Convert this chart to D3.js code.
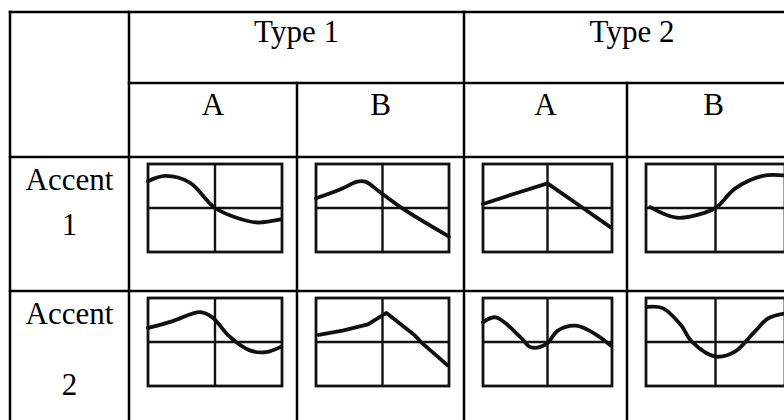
<!DOCTYPE html>
<html>
<head>
<meta charset="utf-8">
<script src="https://cdn.jsdelivr.net/npm/d3@7"></script>
<style>
  html, body { margin: 0; padding: 0; background: #fff; }
  svg { display: block; }
</style>
</head>
<body>
<svg id="chart" width="784" height="420"></svg>
<script>
// ---- data ----
const types = ["Type 1", "Type 2"];
const variants = ["A", "B"];
const accents = ["Accent", "Accent"];
const accentNumbers = ["1", "2"];

// contour points: [x in 0..1 across frame, y in -1..1 (0 = middle line)]
const accent1Type1A = [[0,0.61],[0.13,0.73],[0.31,0.58],[0.5,0],[0.69,-0.25],[0.82,-0.33],[0.99,-0.26]];
const accent1Type1B = [[0,0.22],[0.18,0.42],[0.31,0.60],[0.37,0.60],[0.49,0.34],[0.67,-0.05],[1,-0.65]];
const accent1Type2A = [[0,0.09],[0.25,0.33],[0.5,0.56],[0.75,0.05],[0.99,-0.44]];
const accent1Type2B = [[0.03,0.02],[0.22,-0.22],[0.42,-0.11],[0.51,0.02],[0.64,0.44],[0.84,0.73],[0.99,0.74]];
const accent2Type1A = [[0,0.32],[0.18,0.47],[0.39,0.68],[0.48,0.56],[0.61,0.12],[0.76,-0.19],[0.88,-0.23],[0.99,-0.11]];
const accent2Type1B = [[0.02,0.16],[0.2,0.26],[0.39,0.40],[0.53,0.66],[0.74,0.16],[0.80,-0.03],[0.99,-0.53]];
const accent2Type2A = [[0,0.45],[0.1,0.56],[0.29,0.11],[0.37,-0.12],[0.49,-0.05],[0.58,0.26],[0.72,0.37],[0.87,0.18],[0.99,-0.08]];
const accent2Type2B = [[0.01,0.80],[0.12,0.77],[0.25,0.39],[0.33,0.01],[0.50,-0.33],[0.64,-0.22],[0.78,0.23],[0.88,0.54],[1.0,0.65]];

const contours = [
  [accent1Type1A, accent1Type1B, accent1Type2A, accent1Type2B],
  [accent2Type1A, accent2Type1B, accent2Type2A, accent2Type2B]
];
const sharpCells = new Set(["0-2", "1-1"]);

// ---- layout ----
const svg = d3.select("#chart");
const colX = [10, 129, 297, 464, 627, 800];
const rowY = [12, 83, 157, 291, 430];
const lineW = 2.5;
const font = "'Liberation Serif', 'Times New Roman', serif";
const fs = 31;

const g = svg.append("g");

// table lines
const hLines = [
  [colX[0], colX[5], rowY[0]],
  [colX[1], colX[5], rowY[1]],
  [colX[0], colX[5], rowY[2]],
  [colX[0], colX[5], rowY[3]]
];
const vLines = [
  [colX[0], rowY[0], rowY[4]],
  [colX[1], rowY[0], rowY[4]],
  [colX[2], rowY[1], rowY[4]],
  [colX[3], rowY[0], rowY[4]],
  [colX[4], rowY[1], rowY[4]]
];
g.selectAll("line.h").data(hLines).join("line").attr("class", "h")
  .attr("x1", d => d[0] - lineW / 2).attr("x2", d => d[1]).attr("y1", d => d[2]).attr("y2", d => d[2])
  .attr("stroke", "#000").attr("stroke-width", lineW);
g.selectAll("line.v").data(vLines).join("line").attr("class", "v")
  .attr("x1", d => d[0]).attr("x2", d => d[0]).attr("y1", d => d[1] - lineW / 2).attr("y2", d => d[2])
  .attr("stroke", "#000").attr("stroke-width", lineW);

// header texts
g.selectAll("text.type").data(types).join("text").attr("class", "type")
  .attr("x", (d, i) => (colX[1 + 2 * i] + colX[3 + 2 * i]) / 2)
  .attr("y", 42)
  .attr("text-anchor", "middle").attr("font-family", font).attr("font-size", fs)
  .text(d => d);

const subHeads = d3.range(4).map(i => variants[i % 2]);
g.selectAll("text.variant").data(subHeads).join("text").attr("class", "variant")
  .attr("x", (d, i) => (colX[1 + i] + colX[2 + i]) / 2)
  .attr("y", 115)
  .attr("text-anchor", "middle").attr("font-family", font).attr("font-size", fs)
  .text(d => d);

// row labels
const rowLabelY = [[190, 235], [324, 395]];
accents.forEach((a, r) => {
  const cx = (colX[0] + colX[1]) / 2;
  g.append("text").attr("x", cx).attr("y", rowLabelY[r][0])
    .attr("text-anchor", "middle").attr("font-family", font).attr("font-size", fs).text(a);
  g.append("text").attr("x", cx).attr("y", rowLabelY[r][1])
    .attr("text-anchor", "middle").attr("font-family", font).attr("font-size", fs).text(accentNumbers[r]);
});

// mini contour charts
contours.forEach((row, r) => {
  row.forEach((pts, c) => {
    const x0 = colX[1 + c] + 19, x1 = colX[2 + c] - 15;
    const y0 = rowY[2 + r] + 7, y1 = y0 + 88;
    const x = d3.scaleLinear().domain([0, 1]).range([x0, x1]);
    const y = d3.scaleLinear().domain([-1, 1]).range([y1, y0]);
    const cell = g.append("g");
    cell.append("rect").attr("x", x0).attr("y", y0).attr("width", x1 - x0).attr("height", y1 - y0)
      .attr("fill", "none").attr("stroke", "#111").attr("stroke-width", 2.8);
    cell.append("line").attr("x1", x(0.5)).attr("x2", x(0.5)).attr("y1", y0).attr("y2", y1)
      .attr("stroke", "#111").attr("stroke-width", 2.4);
    cell.append("line").attr("x1", x0).attr("x2", x1).attr("y1", y(0)).attr("y2", y(0))
      .attr("stroke", "#111").attr("stroke-width", 2.4);
    const curve = sharpCells.has(r + "-" + c) ? d3.curveLinear : d3.curveCatmullRom.alpha(0.5);
    const line = d3.line().x(d => x(d[0])).y(d => y(d[1])).curve(curve);
    cell.append("path").attr("d", line(pts)).attr("fill", "none")
      .attr("stroke", "#111").attr("stroke-width", 3.8).attr("stroke-linejoin", "round").attr("stroke-linecap", "round");
  });
});
</script>
</body>
</html>
